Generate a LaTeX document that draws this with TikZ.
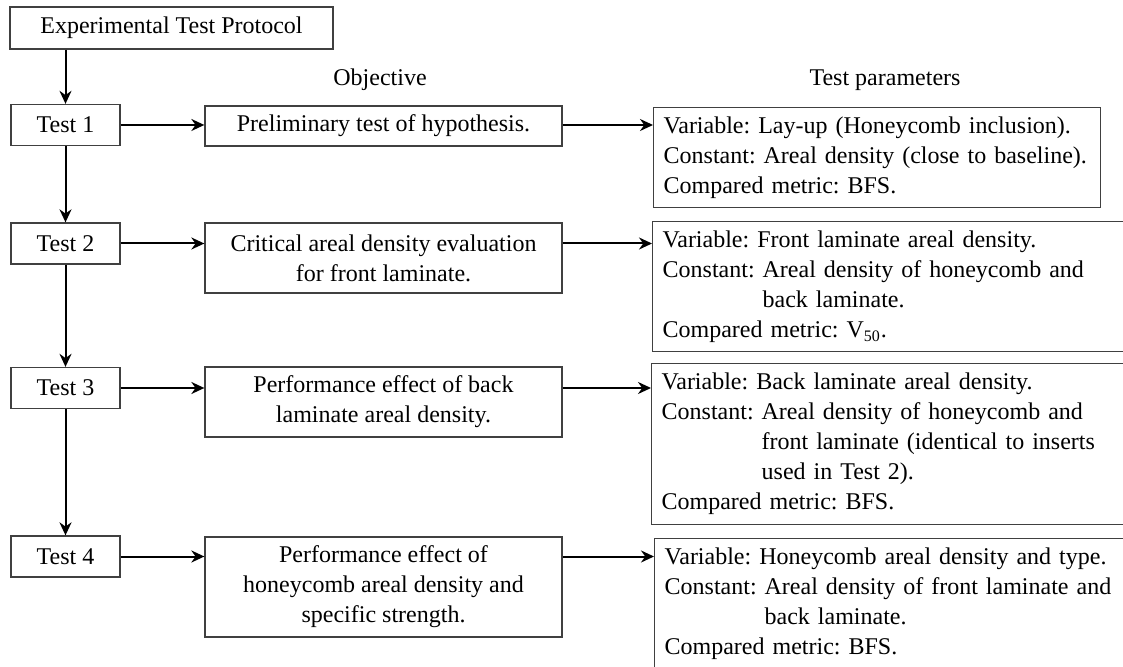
\documentclass[tikz,border=0pt]{standalone}
\usepackage{fontspec}
\setmainfont{Liberation Serif}
\usetikzlibrary{arrows.meta,positioning}
\frenchspacing

\begin{document}
\begin{tikzpicture}[x=0.5pt,y=-0.5pt,font=\fontsize{12pt}{15pt}\selectfont,>={Stealth[length=6.5pt,width=6pt]}]
  \tikzstyle{box}=[draw=black!75,line width=0.65pt,inner sep=0pt]
  \tikzstyle{testbox}=[box,minimum width=54.5pt,minimum height=20.5pt]
  \tikzstyle{objbox}=[box,minimum width=178.5pt,align=center]
  \tikzstyle{parbox}=[box,anchor=north west,align=left,inner xsep=5pt]
  \tikzstyle{link}=[->,line width=1pt]
  \clip (0,0) rectangle (1123,667);

  \node[box,minimum width=161.5pt,minimum height=21pt] (protocol) at (171.5,28) {Experimental Test Protocol};
  \node (objective) at (380,80) {Objective};
  \node (parameters) at (885,80) {Test parameters};

  \node[testbox] (test1) at (65.5,125) {Test 1};
  \node[testbox] (test2) at (65.5,243.5) {Test 2};
  \node[testbox] (test3) at (65.5,388) {Test 3};
  \node[testbox] (test4) at (65.5,556.5) {Test 4};

  \node[objbox,minimum height=20pt] (prelim) at (383.5,126) {Preliminary test of hypothesis.};
  \node[objbox,minimum height=35pt] (critical) at (383.5,258) {Critical areal density evaluation\\for front laminate.};
  \node[objbox,minimum height=35pt] (backeff) at (383.5,402) {Performance effect of back\\laminate areal density.};
  \node[objbox,minimum height=50pt] (combeff) at (383.5,587) {Performance effect of\\honeycomb areal density and\\specific strength.};

  \node[parbox,text width=213.5pt,minimum height=50pt] (par1) at (653,107)
    {Variable: Lay-up (Honeycomb inclusion).\\
     Constant: Areal density (close to baseline).\\
     Compared metric: BFS.};
  \node[parbox,text width=231.5pt,minimum height=65pt] (par2) at (652,221)
    {Variable: Front laminate areal density.\\
     Constant: Areal density of honeycomb and\\
     \hphantom{Constant:\ }back laminate.\\
     Compared metric: V\textsubscript{50}.};
  \node[parbox,text width=231.5pt,minimum height=80.5pt] (par3) at (651,363)
    {Variable: Back laminate areal density.\\
     Constant: Areal density of honeycomb and\\
     \hphantom{Constant:\ }front laminate (identical to inserts\\
     \hphantom{Constant:\ }used in Test 2).\\
     Compared metric: BFS.};
  \node[parbox,text width=231.5pt,minimum height=65pt] (par4) at (654,538)
    {Variable: Honeycomb areal density and type.\\
     Constant: Areal density of front laminate and\\
     \hphantom{Constant:\ }back laminate.\\
     Compared metric: BFS.};

  % down the test column
  \draw[link] (protocol.south -| test1.north) -- (test1.north);
  \path[link]
  (test1) edge (test2)
  (test2) edge (test3)
  (test3) edge (test4);

  % across to objective and parameters
  \path[link]
  (test1) edge (test1 -| prelim.west)
  (test2) edge (test2 -| critical.west)
  (test3) edge (test3 -| backeff.west)
  (test4) edge (test4 -| combeff.west)

  (test1 -| prelim.east) edge (test1 -| par1.west)
  (test2 -| critical.east) edge (test2 -| par2.west)
  (test3 -| backeff.east) edge (test3 -| par3.west)
  (test4 -| combeff.east) edge (test4 -| par4.west);
\end{tikzpicture}
\end{document}
